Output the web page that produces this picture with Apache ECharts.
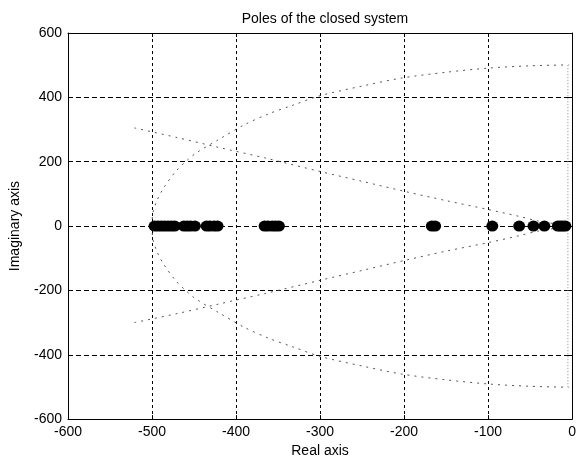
<!DOCTYPE html>
<html>
<head>
<meta charset="utf-8">
<script src="https://cdn.jsdelivr.net/npm/echarts@6/dist/echarts.min.js"></script>
<style>
  html, body { margin: 0; padding: 0; background: #fff; }
  #chart { width: 579px; height: 463px; }
</style>
</head>
<body>
<div id="chart"></div>
<script>
// poles on the real axis (imaginary part 0)
const realPoles = [-497, -493, -489, -485, -481, -477, -473, -462, -458, -454, -449,
  -435, -431, -426, -422, -366, -362, -357, -353, -349, -167, -163,
  -95, -63, -46, -33, -17, -14, -11, -8]

// root locus branches [real, imag]
const upperArc = [[-500, 0], [-499, 40], [-494, 80], [-486, 119], [-472, 169], [-458, 205],
  [-447, 228], [-420, 270], [-390, 315], [-360, 350], [-334, 374], [-300, 405],
  [-250, 435], [-203, 460], [-150, 478], [-99, 491], [-50, 498], [-4, 501]]
const lowerArc = [[-500, 0], [-499, -40], [-494, -80], [-486, -119], [-472, -169], [-458, -205],
  [-447, -228], [-420, -270], [-390, -315], [-360, -350], [-334, -374], [-300, -405],
  [-250, -435], [-203, -460], [-150, -478], [-99, -491], [-50, -498], [-4, -501]]
const upperLine = [[-521, 305], [-470, 275], [-420, 244], [-366, 212], [-299, 169], [-250, 139],
  [-198, 107], [-150, 79], [-99, 51], [-63, 30], [-41, 16], [-15, 5]]
const lowerLine = [[-521, -300], [-470, -272], [-420, -242], [-366, -210], [-299, -168], [-250, -138],
  [-198, -106], [-150, -78], [-99, -51], [-63, -30], [-41, -16], [-15, -5]]
const vertLine = [[-5, -501], [-5, 501]]

const xTicks = { min: -600, max: 0, step: 100 }
const yTicks = { min: -600, max: 600, step: 200 }

const font = 'Liberation Sans, Arial, sans-serif'
const chart = echarts.init(document.getElementById('chart'))

const gridLine = type => ({ show: true, lineStyle: { color: '#000', type: type, width: 1 } })
const branch = data => ({
  type: 'line',
  data: data,
  showSymbol: false,
  smooth: 0.3,
  silent: true,
  lineStyle: { color: '#555', width: 1, type: [2, 5] },
  z: 2
})

chart.setOption({
  animation: false,
  title: {
    text: 'Poles of the closed system',
    left: 320,
    top: 7,
    textAlign: 'center',
    textStyle: { fontFamily: font, fontSize: 14, fontWeight: 'normal', color: '#000' }
  },
  grid: { left: 62, right: 2, top: 33, bottom: 43 },
  xAxis: [{
    type: 'value',
    min: xTicks.min, max: xTicks.max, interval: xTicks.step,
    name: 'Real axis',
    nameLocation: 'middle',
    nameGap: 24,
    nameTextStyle: { fontFamily: font, fontSize: 14, color: '#000' },
    axisLine: { onZero: false, lineStyle: { color: '#000' } },
    axisTick: { inside: true, length: 4, lineStyle: { color: '#000' } },
    axisLabel: { margin: 6, fontFamily: font, fontSize: 14, color: '#000' },
    splitLine: gridLine([3, 3])
  }, {
    type: 'value', position: 'top',
    min: xTicks.min, max: xTicks.max, interval: xTicks.step,
    axisLine: { onZero: false, lineStyle: { color: '#000' } },
    axisTick: { inside: true, length: 4, lineStyle: { color: '#000' } },
    axisLabel: { show: false },
    splitLine: { show: false }
  }],
  yAxis: [{
    type: 'value',
    min: yTicks.min, max: yTicks.max, interval: yTicks.step,
    name: 'Imaginary axis',
    nameLocation: 'middle',
    nameGap: 46,
    nameTextStyle: { fontFamily: font, fontSize: 14, color: '#000' },
    axisLine: { show: true, onZero: false, lineStyle: { color: '#000' } },
    axisTick: { show: true, inside: true, length: 4, lineStyle: { color: '#000' } },
    axisLabel: { margin: 6, fontFamily: font, fontSize: 14, color: '#000' },
    splitLine: gridLine([5, 3])
  }, {
    type: 'value', position: 'right',
    min: yTicks.min, max: yTicks.max, interval: yTicks.step,
    axisLine: { show: true, onZero: false, lineStyle: { color: '#000' } },
    axisTick: { show: true, inside: true, length: 4, lineStyle: { color: '#000' } },
    axisLabel: { show: false },
    splitLine: { show: false }
  }],
  series: [
    branch(upperArc),
    branch(lowerArc),
    branch(upperLine),
    branch(lowerLine),
    {
      type: 'line',
      data: vertLine,
      showSymbol: false,
      silent: true,
      lineStyle: { color: '#888', width: 1, type: [1, 2] },
      z: 2
    },
    {
      type: 'scatter',
      data: realPoles.map(p => [p, 0]),
      symbol: 'circle',
      symbolSize: [12, 11],
      itemStyle: { color: '#000', opacity: 1 },
      z: 5
    }
  ]
})
</script>
</body>
</html>
